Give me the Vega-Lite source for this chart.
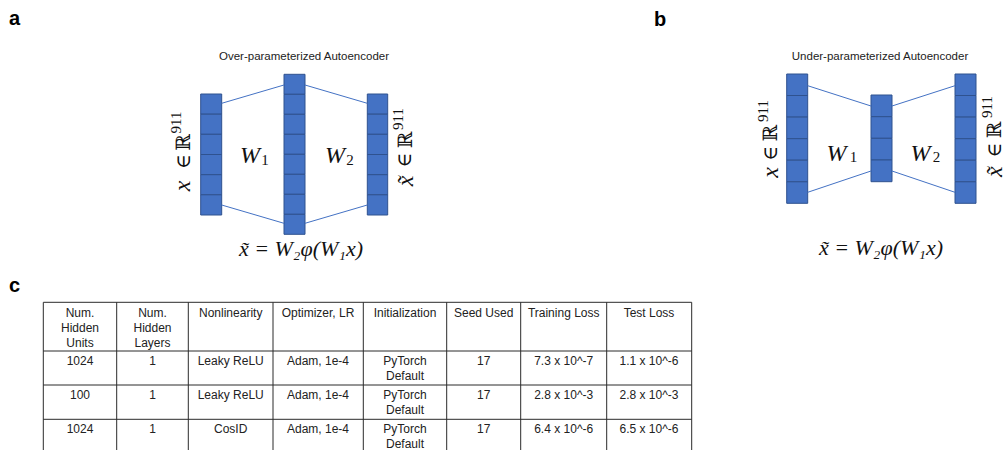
{
  "$schema": "https://vega.github.io/schema/vega-lite/v6.json",
  "width": 1003,
  "height": 450,
  "padding": 0,
  "autosize": {"type": "none"},
  "background": "white",
  "config": {"view": {"stroke": null}},
  "datasets": {
    "cells": [
      {"x": 200.7, "x2": 221.7, "y": 94, "y2": 114.2},
      {"x": 200.7, "x2": 221.7, "y": 114.2, "y2": 134.3},
      {"x": 200.7, "x2": 221.7, "y": 134.3, "y2": 154.5},
      {"x": 200.7, "x2": 221.7, "y": 154.5, "y2": 174.7},
      {"x": 200.7, "x2": 221.7, "y": 174.7, "y2": 194.8},
      {"x": 200.7, "x2": 221.7, "y": 194.8, "y2": 215},
      {"x": 284, "x2": 305, "y": 74.3, "y2": 94.3},
      {"x": 284, "x2": 305, "y": 94.3, "y2": 114.3},
      {"x": 284, "x2": 305, "y": 114.3, "y2": 134.3},
      {"x": 284, "x2": 305, "y": 134.3, "y2": 154.3},
      {"x": 284, "x2": 305, "y": 154.3, "y2": 174.3},
      {"x": 284, "x2": 305, "y": 174.3, "y2": 194.3},
      {"x": 284, "x2": 305, "y": 194.3, "y2": 214.3},
      {"x": 284, "x2": 305, "y": 214.3, "y2": 234.3},
      {"x": 367.3, "x2": 387.7, "y": 94, "y2": 114.2},
      {"x": 367.3, "x2": 387.7, "y": 114.2, "y2": 134.3},
      {"x": 367.3, "x2": 387.7, "y": 134.3, "y2": 154.5},
      {"x": 367.3, "x2": 387.7, "y": 154.5, "y2": 174.7},
      {"x": 367.3, "x2": 387.7, "y": 174.7, "y2": 194.8},
      {"x": 367.3, "x2": 387.7, "y": 194.8, "y2": 215},
      {"x": 786.7, "x2": 807.7, "y": 74, "y2": 95.5},
      {"x": 786.7, "x2": 807.7, "y": 95.5, "y2": 117.1},
      {"x": 786.7, "x2": 807.7, "y": 117.1, "y2": 138.7},
      {"x": 786.7, "x2": 807.7, "y": 138.7, "y2": 160.2},
      {"x": 786.7, "x2": 807.7, "y": 160.2, "y2": 181.8},
      {"x": 786.7, "x2": 807.7, "y": 181.8, "y2": 203.3},
      {"x": 871, "x2": 892, "y": 95, "y2": 116.7},
      {"x": 871, "x2": 892, "y": 116.7, "y2": 138.3},
      {"x": 871, "x2": 892, "y": 138.3, "y2": 160},
      {"x": 871, "x2": 892, "y": 160, "y2": 181.7},
      {"x": 955, "x2": 976, "y": 74, "y2": 95.5},
      {"x": 955, "x2": 976, "y": 95.5, "y2": 117.1},
      {"x": 955, "x2": 976, "y": 117.1, "y2": 138.7},
      {"x": 955, "x2": 976, "y": 138.7, "y2": 160.2},
      {"x": 955, "x2": 976, "y": 160.2, "y2": 181.8},
      {"x": 955, "x2": 976, "y": 181.8, "y2": 203.3}
    ],
    "links": [
      {"x": 221.7, "y": 103.3, "x2": 284, "y2": 85},
      {"x": 221.7, "y": 205, "x2": 284, "y2": 223.3},
      {"x": 305, "y": 85, "x2": 367.3, "y2": 103.3},
      {"x": 305, "y": 223.3, "x2": 367.3, "y2": 205},
      {"x": 807.7, "y": 85.7, "x2": 871, "y2": 106},
      {"x": 807.7, "y": 192.3, "x2": 871, "y2": 171},
      {"x": 892, "y": 106, "x2": 955, "y2": 85.7},
      {"x": 892, "y": 171, "x2": 955, "y2": 192.3}
    ],
    "grid": [
      {"x": 43.3, "x2": 691.7, "y": 302.3, "y2": 302.3},
      {"x": 43.3, "x2": 691.7, "y": 351, "y2": 351},
      {"x": 43.3, "x2": 691.7, "y": 385, "y2": 385},
      {"x": 43.3, "x2": 691.7, "y": 419.3, "y2": 419.3},
      {"x": 43.3, "x2": 43.3, "y": 302.3, "y2": 452},
      {"x": 116.7, "x2": 116.7, "y": 302.3, "y2": 452},
      {"x": 188.3, "x2": 188.3, "y": 302.3, "y2": 452},
      {"x": 273, "x2": 273, "y": 302.3, "y2": 452},
      {"x": 363.3, "x2": 363.3, "y": 302.3, "y2": 452},
      {"x": 446.7, "x2": 446.7, "y": 302.3, "y2": 452},
      {"x": 520.7, "x2": 520.7, "y": 302.3, "y2": 452},
      {"x": 606.7, "x2": 606.7, "y": 302.3, "y2": 452},
      {"x": 691.7, "x2": 691.7, "y": 302.3, "y2": 452}
    ],
    "texts": [
      {"role": "panel", "x": 9, "y": 25, "text": "a"},
      {"role": "panel", "x": 654, "y": 26, "text": "b"},
      {"role": "panel", "x": 9, "y": 292, "text": "c"},
      {"role": "title", "x": 304, "y": 57, "text": "Over-parameterized Autoencoder"},
      {"role": "title", "x": 880, "y": 57, "text": "Under-parameterized Autoencoder"},
      {"role": "mathi", "x": 250, "y": 156, "text": "W"},
      {"role": "mathi", "x": 335, "y": 156, "text": "W"},
      {"role": "mathi", "x": 836.5, "y": 153.5, "text": "W"},
      {"role": "mathi", "x": 920.5, "y": 153.5, "text": "W"},
      {"role": "sub", "x": 265, "y": 160, "text": "1"},
      {"role": "sub", "x": 350, "y": 160, "text": "2"},
      {"role": "sub", "x": 853.5, "y": 157, "text": "1"},
      {"role": "sub", "x": 936.5, "y": 157, "text": "2"},
      {"role": "eq", "x": 301, "y": 249, "text": "x̃ = W₂φ(W₁x)"},
      {"role": "eq", "x": 881, "y": 248, "text": "x̃ = W₂φ(W₁x)"},
      {"role": "rotx", "x": 183, "y": 186, "text": "x"},
      {"role": "rotx", "x": 406, "y": 181, "text": "x̃"},
      {"role": "rotx", "x": 771, "y": 172.5, "text": "x"},
      {"role": "rotx", "x": 995, "y": 171.7, "text": "x̃"},
      {"role": "rotu", "x": 183.5, "y": 161.5, "text": "∈"},
      {"role": "rotu", "x": 183.5, "y": 142.5, "text": "ℝ"},
      {"role": "rotu", "x": 405, "y": 160, "text": "∈"},
      {"role": "rotu", "x": 405.7, "y": 140, "text": "ℝ"},
      {"role": "rotu", "x": 771.3, "y": 153.3, "text": "∈"},
      {"role": "rotu", "x": 771, "y": 133.3, "text": "ℝ"},
      {"role": "rotu", "x": 995, "y": 150, "text": "∈"},
      {"role": "rotu", "x": 995, "y": 130, "text": "ℝ"},
      {"role": "rotsup", "x": 176, "y": 122.5, "text": "911"},
      {"role": "rotsup", "x": 397.5, "y": 119, "text": "911"},
      {"role": "rotsup", "x": 763, "y": 111, "text": "911"},
      {"role": "rotsup", "x": 987, "y": 107, "text": "911"},
      {"role": "table", "x": 80, "y": 317, "text": "Num.\nHidden\nUnits"},
      {"role": "table", "x": 152.5, "y": 317, "text": "Num.\nHidden\nLayers"},
      {"role": "table", "x": 230.7, "y": 317, "text": "Nonlinearity"},
      {"role": "table", "x": 318, "y": 317, "text": "Optimizer, LR"},
      {"role": "table", "x": 405, "y": 317, "text": "Initialization"},
      {"role": "table", "x": 483.7, "y": 317, "text": "Seed Used"},
      {"role": "table", "x": 563.7, "y": 317, "text": "Training Loss"},
      {"role": "table", "x": 649, "y": 317, "text": "Test Loss"},
      {"role": "table", "x": 80, "y": 364.5, "text": "1024"},
      {"role": "table", "x": 152.5, "y": 364.5, "text": "1"},
      {"role": "table", "x": 230.7, "y": 364.5, "text": "Leaky ReLU"},
      {"role": "table", "x": 318, "y": 364.5, "text": "Adam, 1e-4"},
      {"role": "table", "x": 405, "y": 364.5, "text": "PyTorch\nDefault"},
      {"role": "table", "x": 483.7, "y": 364.5, "text": "17"},
      {"role": "table", "x": 563.7, "y": 364.5, "text": "7.3 x 10^-7"},
      {"role": "table", "x": 649, "y": 364.5, "text": "1.1 x 10^-6"},
      {"role": "table", "x": 80, "y": 398.5, "text": "100"},
      {"role": "table", "x": 152.5, "y": 398.5, "text": "1"},
      {"role": "table", "x": 230.7, "y": 398.5, "text": "Leaky ReLU"},
      {"role": "table", "x": 318, "y": 398.5, "text": "Adam, 1e-4"},
      {"role": "table", "x": 405, "y": 398.5, "text": "PyTorch\nDefault"},
      {"role": "table", "x": 483.7, "y": 398.5, "text": "17"},
      {"role": "table", "x": 563.7, "y": 398.5, "text": "2.8 x 10^-3"},
      {"role": "table", "x": 649, "y": 398.5, "text": "2.8 x 10^-3"},
      {"role": "table", "x": 80, "y": 432.8, "text": "1024"},
      {"role": "table", "x": 152.5, "y": 432.8, "text": "1"},
      {"role": "table", "x": 230.7, "y": 432.8, "text": "CosID"},
      {"role": "table", "x": 318, "y": 432.8, "text": "Adam, 1e-4"},
      {"role": "table", "x": 405, "y": 432.8, "text": "PyTorch\nDefault"},
      {"role": "table", "x": 483.7, "y": 432.8, "text": "17"},
      {"role": "table", "x": 563.7, "y": 432.8, "text": "6.4 x 10^-6"},
      {"role": "table", "x": 649, "y": 432.8, "text": "6.5 x 10^-6"}
    ]
  },
  "layer": [
    {
      "data": {"name": "cells"},
      "mark": {"type": "rect", "fill": "#4472C4", "stroke": "#2F528F", "strokeWidth": 1},
      "encoding": {
        "x": {"field": "x", "type": "quantitative", "scale": {"domain": [0, 1003], "range": [0, 1003], "nice": false, "zero": false}, "axis": null},
        "x2": {"field": "x2"},
        "y": {"field": "y", "type": "quantitative", "scale": {"domain": [0, 450], "range": [0, 450], "nice": false, "zero": false}, "axis": null},
        "y2": {"field": "y2"}
      }
    },
    {
      "data": {"name": "links"},
      "mark": {"type": "rule", "stroke": "#4472C4", "strokeWidth": 1},
      "encoding": {
        "x": {"field": "x", "type": "quantitative", "axis": null},
        "x2": {"field": "x2"},
        "y": {"field": "y", "type": "quantitative", "axis": null},
        "y2": {"field": "y2"}
      }
    },
    {
      "data": {"name": "grid"},
      "mark": {"type": "rule", "stroke": "#2b2b2b", "strokeWidth": 1},
      "encoding": {
        "x": {"field": "x", "type": "quantitative", "axis": null},
        "x2": {"field": "x2"},
        "y": {"field": "y", "type": "quantitative", "axis": null},
        "y2": {"field": "y2"}
      }
    },
    {
      "data": {"name": "texts"},
      "transform": [{"filter": "datum.role === 'panel'"}],
      "mark": {"type": "text", "font": "Liberation Sans", "fontWeight": "bold", "fontSize": 20, "align": "left", "baseline": "alphabetic", "color": "#000"},
      "encoding": {
        "x": {"field": "x", "type": "quantitative", "axis": null},
        "y": {"field": "y", "type": "quantitative", "axis": null},
        "text": {"field": "text"}
      }
    },
    {
      "data": {"name": "texts"},
      "transform": [{"filter": "datum.role === 'title'"}],
      "mark": {"type": "text", "font": "Liberation Sans", "fontSize": 11.5, "align": "center", "baseline": "middle", "color": "#222"},
      "encoding": {
        "x": {"field": "x", "type": "quantitative", "axis": null},
        "y": {"field": "y", "type": "quantitative", "axis": null},
        "text": {"field": "text"}
      }
    },
    {
      "data": {"name": "texts"},
      "transform": [{"filter": "datum.role === 'table'"}],
      "mark": {"type": "text", "font": "Liberation Sans", "fontSize": 12, "align": "center", "baseline": "alphabetic", "lineBreak": "\n", "lineHeight": 15, "color": "#222"},
      "encoding": {
        "x": {"field": "x", "type": "quantitative", "axis": null},
        "y": {"field": "y", "type": "quantitative", "axis": null},
        "text": {"field": "text"}
      }
    },
    {
      "data": {"name": "texts"},
      "transform": [{"filter": "datum.role === 'mathi'"}],
      "mark": {"type": "text", "font": "Liberation Serif", "fontStyle": "italic", "fontSize": 24, "align": "center", "baseline": "middle", "color": "#111"},
      "encoding": {
        "x": {"field": "x", "type": "quantitative", "axis": null},
        "y": {"field": "y", "type": "quantitative", "axis": null},
        "text": {"field": "text"}
      }
    },
    {
      "data": {"name": "texts"},
      "transform": [{"filter": "datum.role === 'sub'"}],
      "mark": {"type": "text", "font": "Liberation Serif", "fontSize": 15, "align": "center", "baseline": "middle", "color": "#111"},
      "encoding": {
        "x": {"field": "x", "type": "quantitative", "axis": null},
        "y": {"field": "y", "type": "quantitative", "axis": null},
        "text": {"field": "text"}
      }
    },
    {
      "data": {"name": "texts"},
      "transform": [{"filter": "datum.role === 'eq'"}],
      "mark": {"type": "text", "font": "Liberation Serif", "fontStyle": "italic", "fontSize": 22, "align": "center", "baseline": "middle", "color": "#111"},
      "encoding": {
        "x": {"field": "x", "type": "quantitative", "axis": null},
        "y": {"field": "y", "type": "quantitative", "axis": null},
        "text": {"field": "text"}
      }
    },
    {
      "data": {"name": "texts"},
      "transform": [{"filter": "datum.role === 'rotx'"}],
      "mark": {"type": "text", "font": "Liberation Serif", "fontStyle": "italic", "fontSize": 24, "align": "center", "baseline": "middle", "angle": 270, "color": "#111"},
      "encoding": {
        "x": {"field": "x", "type": "quantitative", "axis": null},
        "y": {"field": "y", "type": "quantitative", "axis": null},
        "text": {"field": "text"}
      }
    },
    {
      "data": {"name": "texts"},
      "transform": [{"filter": "datum.role === 'rotu'"}],
      "mark": {"type": "text", "font": "DejaVu Serif", "fontSize": 20, "align": "center", "baseline": "middle", "angle": 270, "color": "#111"},
      "encoding": {
        "x": {"field": "x", "type": "quantitative", "axis": null},
        "y": {"field": "y", "type": "quantitative", "axis": null},
        "text": {"field": "text"}
      }
    },
    {
      "data": {"name": "texts"},
      "transform": [{"filter": "datum.role === 'rotsup'"}],
      "mark": {"type": "text", "font": "Liberation Serif", "fontSize": 15, "align": "center", "baseline": "middle", "angle": 270, "color": "#111"},
      "encoding": {
        "x": {"field": "x", "type": "quantitative", "axis": null},
        "y": {"field": "y", "type": "quantitative", "axis": null},
        "text": {"field": "text"}
      }
    }
  ]
}
